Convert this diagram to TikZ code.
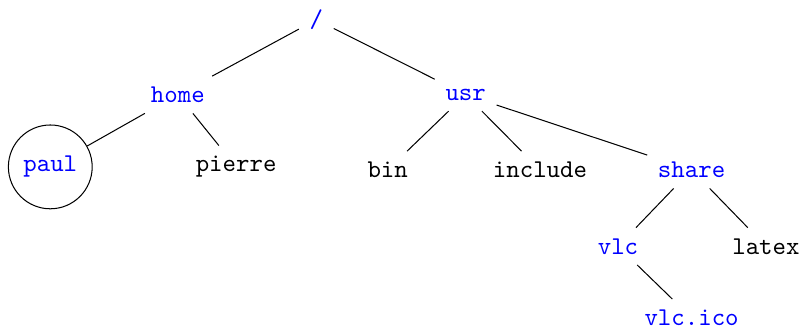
\documentclass[tikz,border=0pt]{standalone}
\usepackage{color}
\usepackage{tikz}
\definecolor{blue500}{HTML}{0000FF}
\tikzstyle{repertoire}=[text=blue500, font=\ttfamily, inner sep=4pt]
\tikzstyle{fichier}=[text=black, font=\ttfamily, inner sep=4pt]
\begin{document}
\begin{tikzpicture}
			\useasboundingbox (0,0) rectangle (11.06,-4.50);
			\node[repertoire] (racine) at (4.34,-0.27) {/};
			\node[repertoire] (home) at (2.44,-1.30) {home};
			\node[repertoire] (usr) at (6.39,-1.30) {usr};
			\node[repertoire, circle, draw=black, minimum size=1.15cm, inner sep=0pt] (paul) at (0.69,-2.29) {paul};
			\node[fichier] (pierre) at (3.24,-2.29) {pierre};
			\node[fichier] (bin) at (5.32,-2.33) {bin};
			\node[fichier] (include) at (7.41,-2.33) {include};
			\node[repertoire] (share) at (9.49,-2.33) {share};
			\node[repertoire] (vlc) at (8.48,-3.38) {vlc};
			\node[fichier] (latex) at (10.51,-3.38) {latex};
			\node[repertoire] (vlcico) at (9.49,-4.36) {vlc.ico};
			\path[draw=black]
				(racine)--(home) (racine)--(usr)
				(home)--(paul) (home)--(pierre)
				(usr)--(bin) (usr)--(include) (usr)--(share)
				(share)--(vlc) (share)--(latex)
				(vlc)--(vlcico);
		\end{tikzpicture}
\end{document}
